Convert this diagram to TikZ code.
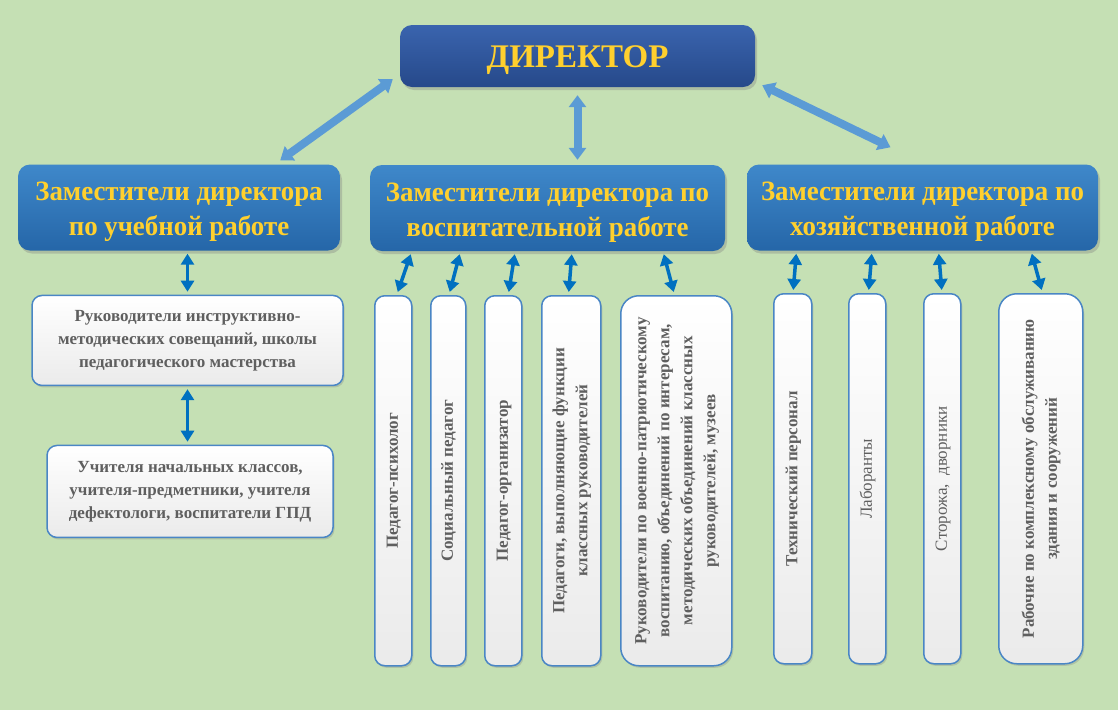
\documentclass[tikz,border=0pt]{standalone}
\usepackage{fontspec}
\setmainfont{Liberation Serif}
\newfontfamily\narrowserif[FakeStretch=0.96]{Liberation Serif}
\usepackage{graphicx}
\usepackage{xcolor}
\usetikzlibrary{positioning,calc,shadows,arrows.meta}

\definecolor{bgGreen}{HTML}{C5E0B4}
\definecolor{dirTop}{HTML}{3A64AE}
\definecolor{dirBottom}{HTML}{26498A}
\definecolor{depTop}{HTML}{3F88CA}
\definecolor{depBottom}{HTML}{2566A8}
\definecolor{goldText}{HTML}{FFD02E}
\definecolor{grayText}{HTML}{5F5F5F}
\definecolor{boxBorder}{HTML}{4A86C5}
\definecolor{arrLight}{HTML}{5B9BD5}
\definecolor{arrDark}{HTML}{0070C0}

\newcommand{\vlabel}[1]{\rotatebox{90}{\begin{tabular}{@{}c@{}}#1\end{tabular}}}
\newcommand{\topstrut}{\rule{0pt}{27pt}}

\begin{document}
\begin{tikzpicture}[
    x=1pt, y=-1pt,
    dirbox/.style={rounded corners=12pt, top color=dirTop, bottom color=dirBottom,
                minimum width=355pt, minimum height=62pt, text=goldText,
                text height=22pt, text depth=0pt,
                font=\fontsize{33}{38}\selectfont\bfseries,
                drop shadow={shadow xshift=2pt, shadow yshift=-3pt, opacity=0.35}},
    depbox/.style={rounded corners=12pt, top color=depTop, bottom color=depBottom,
                minimum height=86pt, align=center, text=goldText,
                font=\narrowserif\fontsize{28}{35}\selectfont\bfseries,
                drop shadow={shadow xshift=2pt, shadow yshift=-3pt, opacity=0.35}},
    wbox/.style={draw=boxBorder, line width=1.5pt, rounded corners=10pt,
                top color=white, bottom color=black!8, align=center, text=grayText,
                font=\fontsize{17}{23}\selectfont\bfseries,
                drop shadow={shadow xshift=1.5pt, shadow yshift=-2pt, opacity=0.3}},
    vbox/.style={wbox, minimum height=370pt, inner sep=0pt},
    bigarr/.style={{Triangle[width=17pt,length=12pt]}-{Triangle[width=17pt,length=12pt]},
                line width=8pt, draw=arrLight},
    subarr/.style={{Triangle[width=13pt,length=11pt]}-{Triangle[width=13pt,length=11pt]},
                line width=3.5pt, draw=arrDark}
]

\fill[bgGreen] (0,0) rectangle (1118,710);
\useasboundingbox (0,0) rectangle (1118,710);

% --- Director and deputies ---
\node[dirbox] (dir) at (577.5,56) {ДИРЕКТОР};
\node[depbox, minimum width=322pt] (depStudy) at (179,207.5) {\topstrut Заместители директора\\по учебной работе};
\node[depbox, minimum width=355pt] (depEdu) at (547.5,208) {\topstrut Заместители директора по\\воспитательной работе};
\node[depbox, minimum width=351pt] (depHouse) at (922.5,207.5) {\topstrut Заместители директора по\\хозяйственной работе};

\draw[bigarr] ([xshift=-7pt,yshift=8pt]dir.south west) -- ([xshift=-60pt,yshift=4pt]depStudy.north east);
\draw[bigarr] ([yshift=-8pt]dir.south) -- ([yshift=5pt]dir.south |- depEdu.north);
\draw[bigarr] ([xshift=7pt,yshift=2pt]dir.south east) -- ([xshift=-32pt,yshift=17pt]depHouse.north);

% --- Study branch (left) ---
\node[wbox, minimum width=311pt, minimum height=90pt, below=44pt of depStudy, xshift=8.5pt] (lead) {Руководители инструктивно-\\методических совещаний, школы\\педагогического мастерства};
\node[wbox, minimum width=286pt, minimum height=92pt, below=58.5pt of lead, xshift=2.5pt] (teach) {Учителя начальных классов,\\учителя-предметники, учителя\\дефектологи, воспитатели ГПД};

\draw[subarr] ([yshift=-3pt]lead.north |- depStudy.south) -- ([yshift=3pt]lead.north);
\draw[subarr] ([yshift=-3pt]lead.south) -- ([yshift=3pt]lead.south |- teach.north);

% --- Upbringing branch (middle) ---
\node[vbox, minimum width=37pt, anchor=north west] (psy) at (374,295) {\vlabel{Педагог-психолог}};
\node[vbox, minimum width=35pt, right=17.5pt of psy] (soc) {\vlabel{Социальный педагог}};
\node[vbox, minimum width=37pt, right=17.5pt of soc] (org) {\vlabel{Педагог-организатор}};
\node[vbox, minimum width=59pt, right=18.5pt of org] (cls) {\vlabel{Педагоги, выполняющие функции\\классных руководителей}};
\node[vbox, minimum width=111pt, rounded corners=18pt, right=18.5pt of cls] (mil) {\vlabel{Руководители по военно-патриотическому\\воспитанию, объединений по интересам,\\методических объединений классных\\руководителей, музеев}};

\draw[subarr] ([xshift=17.5pt,yshift=-3pt]psy.north |- depEdu.south) -- ([xshift=4.5pt,yshift=3pt]psy.north);
\draw[subarr] ([xshift=11.5pt,yshift=-3pt]soc.north |- depEdu.south) -- ([xshift=1.5pt,yshift=3pt]soc.north);
\draw[subarr] ([xshift=11.5pt,yshift=-3pt]org.north |- depEdu.south) -- ([xshift=5.5pt,yshift=3pt]org.north);
\draw[subarr] ([xshift=0.5pt,yshift=-3pt]cls.north |- depEdu.south) -- ([xshift=-2.5pt,yshift=3pt]cls.north);
\draw[subarr] ([xshift=-12.5pt,yshift=-3pt]mil.north |- depEdu.south) -- ([xshift=-2.5pt,yshift=3pt]mil.north);

% --- Household branch (right) ---
\node[vbox, minimum width=38pt, anchor=north west] (tech) at (773,293) {\vlabel{Технический персонал}};
\node[vbox, minimum width=37pt, right=35.5pt of tech] (lab) {\vlabel{\mdseries Лаборанты}};
\node[vbox, minimum width=37pt, right=36.5pt of lab] (guard) {\vlabel{\mdseries Сторожа,\ \ дворники}};
\node[vbox, minimum width=84pt, rounded corners=18pt, right=36.5pt of guard] (work) {\vlabel{Рабочие по комплексному обслуживанию\\здания и сооружений}};

\draw[subarr] ([xshift=3.5pt,yshift=-3pt]tech.north |- depHouse.south) -- ([xshift=0.5pt,yshift=3pt]tech.north);
\draw[subarr] ([xshift=4.5pt,yshift=-3pt]lab.north |- depHouse.south) -- ([xshift=1.5pt,yshift=3pt]lab.north);
\draw[subarr] ([xshift=-3.5pt,yshift=-3pt]guard.north |- depHouse.south) -- ([xshift=-0.5pt,yshift=3pt]guard.north);
\draw[subarr] ([xshift=-9pt,yshift=-3pt]work.north |- depHouse.south) -- ([xshift=1pt,yshift=3pt]work.north);

\end{tikzpicture}
\end{document}
